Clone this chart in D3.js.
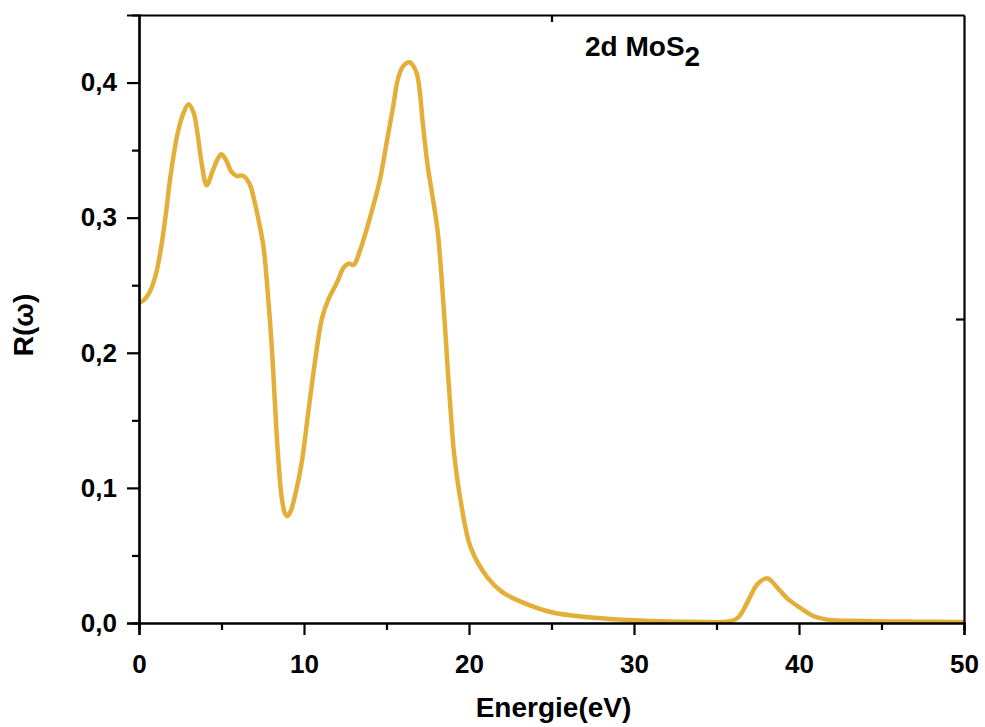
<!DOCTYPE html>
<html>
<head>
<meta charset="utf-8">
<script src="https://cdn.jsdelivr.net/npm/d3@7"></script>
<style>
  html, body { margin: 0; padding: 0; background: #fff; }
  svg { display: block; font-family: "Liberation Sans", Arial, sans-serif; font-weight: bold; }
</style>
</head>
<body>
<svg id="chart" width="985" height="727"></svg>
<script>
// Reflectivity spectrum of 2d MoS2
const energy = [0, 0.3, 0.65, 1.0, 1.3, 1.6, 1.9, 2.3, 2.65, 3.0, 3.3, 3.55, 3.8, 4.1, 4.45, 4.75,
  5.0, 5.3, 5.6, 5.9, 6.3, 6.7, 7.0, 7.3, 7.55, 7.8, 8.05, 8.25, 8.45, 8.65, 8.85, 9.0, 9.2, 9.45,
  9.85, 10.25, 10.65, 11.1, 11.5, 12.0, 12.4, 12.7, 13.0, 13.4, 14.0, 14.6, 15.0, 15.4, 15.7, 16.0,
  16.4, 16.8, 17.0, 17.2, 17.5, 17.8, 18.1, 18.4, 18.7, 18.9, 19.1, 19.5, 20.1, 21.1, 22.0, 23.1,
  25.0, 28.0, 31.0, 34.0, 35.4, 35.9, 36.3, 36.6, 36.9, 37.5, 38.1, 38.7, 39.3, 40.1, 40.9, 41.7,
  44.0, 47.0, 50.0];
const reflectivity = [0.237, 0.239, 0.245, 0.257, 0.275, 0.300, 0.330, 0.360, 0.376, 0.384, 0.378,
  0.362, 0.340, 0.324, 0.334, 0.343, 0.347, 0.342, 0.334, 0.331, 0.331, 0.325, 0.312, 0.295, 0.278,
  0.245, 0.204, 0.160, 0.120, 0.093, 0.081, 0.079, 0.083, 0.094, 0.118, 0.155, 0.192, 0.226, 0.240,
  0.252, 0.263, 0.266, 0.265, 0.276, 0.300, 0.328, 0.355, 0.382, 0.403, 0.412, 0.415, 0.408, 0.395,
  0.370, 0.338, 0.315, 0.290, 0.245, 0.190, 0.155, 0.125, 0.090, 0.056, 0.034, 0.023, 0.016, 0.008,
  0.0035, 0.0015, 0.0008, 0.0007, 0.0015, 0.004, 0.009, 0.016, 0.029, 0.033, 0.026, 0.018, 0.011,
  0.005, 0.0025, 0.0015, 0.001, 0.0008];

const xTicks = [0, 10, 20, 30, 40, 50];
const xMinorTicks = [5, 15, 25, 35, 45];
const yTicks = [0, 0.1, 0.2, 0.3, 0.4];
const yMinorTicks = [0.05, 0.15, 0.25, 0.35];
const xDomain = [0, 50];
const yDomain = [0, 0.45];

const svg = d3.select("#chart");
const margin = { left: 139, right: 21, top: 15, bottom: 104 };
const W = 985, H = 727;
const x = d3.scaleLinear().domain(xDomain).range([margin.left, W - margin.right]);
const y = d3.scaleLinear().domain(yDomain).range([H - margin.bottom, margin.top]);
const fmt = d => d3.format(".1f")(d).replace(".", ",");

// clip for the curve
svg.append("defs").append("clipPath").attr("id", "plotClip")
  .append("rect").attr("x", x(0)).attr("y", y(0.45)).attr("width", x(50) - x(0)).attr("height", y(0) - y(0.45));

// spectrum curve
const data = energy.map((e, i) => [e, reflectivity[i]]);
svg.append("path")
  .datum(data)
  .attr("clip-path", "url(#plotClip)")
  .attr("fill", "none")
  .attr("stroke", "#e3af38")
  .attr("stroke-width", 4.5)
  .attr("stroke-linejoin", "round")
  .attr("d", d3.line().x(d => x(d[0])).y(d => y(d[1])).curve(d3.curveCatmullRom.alpha(0.5)));

// bottom axis
svg.append("g").attr("transform", `translate(0,${y(0)})`)
  .call(d3.axisBottom(x).tickValues(xTicks).tickSize(12).tickPadding(20).tickFormat(d3.format("d")));
svg.append("g").attr("transform", `translate(0,${y(0)})`)
  .call(d3.axisBottom(x).tickValues(xMinorTicks).tickSize(7).tickFormat(""));

// left axis
svg.append("g").attr("transform", `translate(${x(0)},0)`)
  .call(d3.axisLeft(y).tickValues(yTicks).tickSize(12).tickPadding(10).tickFormat(fmt));
svg.append("g").attr("transform", `translate(${x(0)},0)`)
  .call(d3.axisLeft(y).tickValues(yMinorTicks).tickSize(7).tickFormat(""));

// top and right frame axes with a single inner tick at mid-range
svg.append("g").attr("transform", `translate(0,${y(0.45)})`)
  .call(d3.axisBottom(x).tickValues([25]).tickSize(7).tickFormat("").tickSizeOuter(0));
svg.append("g").attr("transform", `translate(${x(50)},0)`)
  .call(d3.axisLeft(y).tickValues([0.225]).tickSize(8).tickFormat("").tickSizeOuter(0));

svg.selectAll(".domain").attr("stroke", "#000").attr("stroke-width", 2.2);
svg.selectAll(".tick line").attr("stroke", "#000").attr("stroke-width", 2.2);
svg.selectAll(".tick text").attr("fill", "#000").style("font-size", "26px")
  .style("font-family", "'Liberation Sans', Arial, sans-serif").style("font-weight", "bold");

// axis titles
svg.append("text")
  .attr("x", (x(0) + x(50)) / 2 + 2).attr("y", 717)
  .attr("text-anchor", "middle").style("font-size", "28px").text("Energie(eV)");
svg.append("text")
  .attr("transform", `translate(33,325) rotate(-90)`)
  .attr("text-anchor", "middle").style("font-size", "28px")
  .text("R(ω)");

// sample label
const lbl = svg.append("text").attr("x", 585).attr("y", 56).style("font-size", "28px");
lbl.append("tspan").text("2d MoS");
lbl.append("tspan").attr("dy", 10).text("2");
</script>
</body>
</html>
